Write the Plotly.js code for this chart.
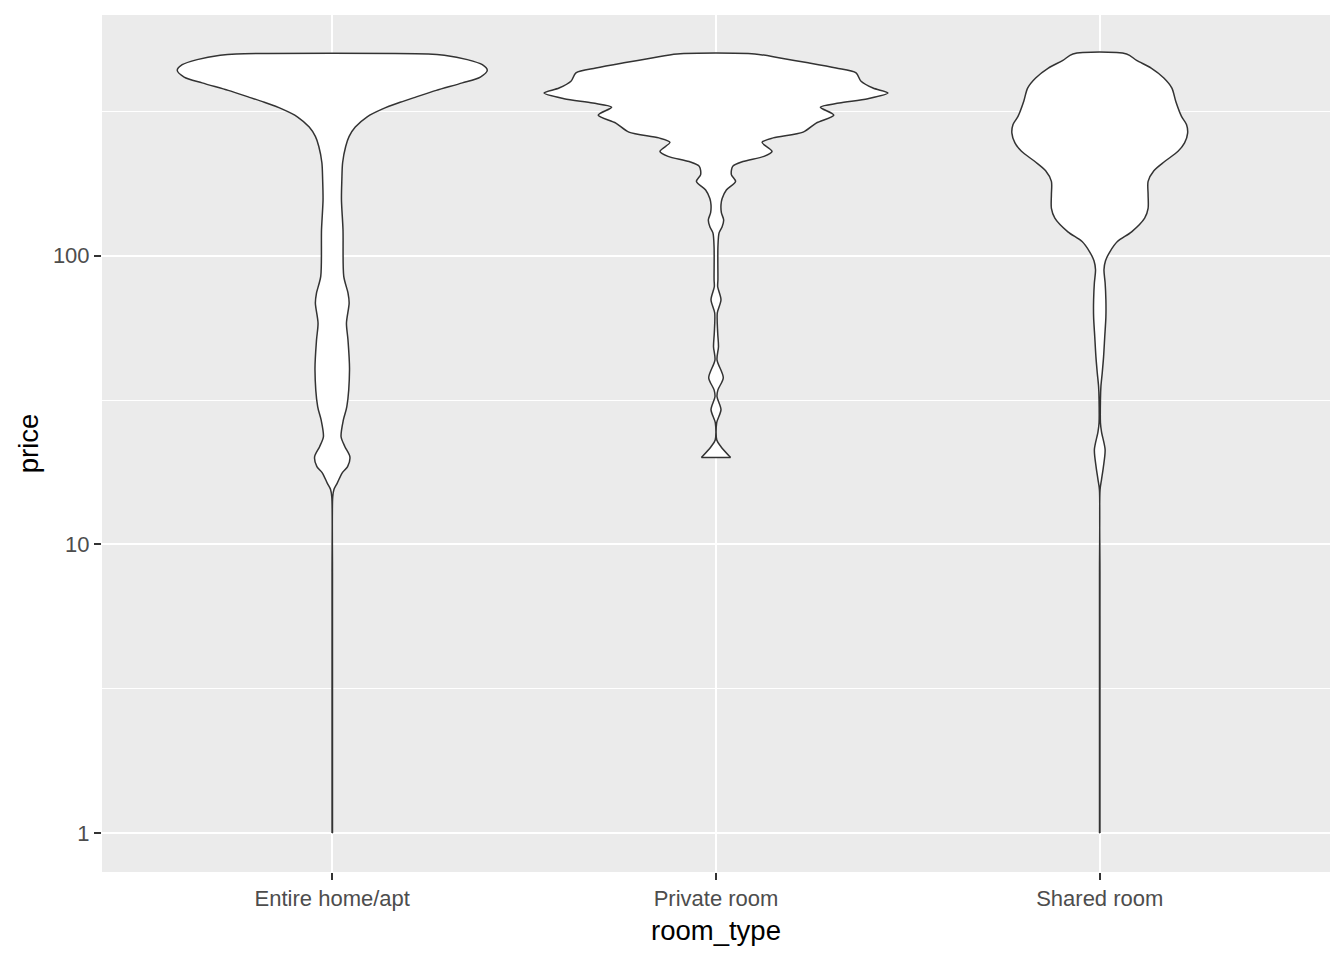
<!DOCTYPE html>
<html>
<head>
<meta charset="utf-8">
<script src="https://cdn.plot.ly/plotly-3.0.1.min.js"></script>
<style>html,body{margin:0;padding:0;background:#fff;}</style>
</head>
<body>
<div id="chart" style="width:1344px;height:960px;"></div>
<script>
// Categories on the x axis
const categories = ['Entire home/apt', 'Private room', 'Shared room'];

// Violin outlines: price (log axis) and half-width of the violin (category units)
const entirePrice = [1, 2, 4, 8, 14.6, 15.5, 16.3, 17.7, 18.6, 20.1, 21.8, 23.6, 27, 30, 40.3, 51.1, 58.4, 68.6, 74.3, 84.8, 123, 156, 183, 210, 239, 259, 279, 303, 322, 340, 355, 374, 397, 416, 439, 459, 478, 495, 500];
const entireHalf = [0.0006, 0.0006, 0.0006, 0.0006, 0.0012, 0.0044, 0.013, 0.026, 0.040, 0.046, 0.033, 0.023, 0.029, 0.038, 0.045, 0.041, 0.037, 0.044, 0.041, 0.030, 0.028, 0.024, 0.025, 0.027, 0.035, 0.044, 0.060, 0.091, 0.130, 0.177, 0.219, 0.271, 0.339, 0.386, 0.404, 0.391, 0.352, 0.292, 0.250];

const privatePrice = [20, 21.8, 23, 26.4, 29.3, 32.5, 34.3, 37.8, 43.6, 48.4, 54.1, 63.4, 70.4, 78.1, 82.6, 107, 120, 126, 133, 141, 150, 158, 169, 181, 191, 204, 212, 221, 230, 247, 256, 268, 288, 307, 327, 338, 350, 366, 381, 402, 430, 447, 466, 484, 500];
const privateHalf = [0.038, 0.013, 0.002, 0.0018, 0.013, 0.0026, 0.005, 0.019, 0.0026, 0.0065, 0.0044, 0.0034, 0.013, 0.0044, 0.005, 0.005, 0.008, 0.016, 0.020, 0.014, 0.013, 0.016, 0.027, 0.051, 0.040, 0.0435, 0.070, 0.125, 0.146, 0.120, 0.149, 0.227, 0.261, 0.307, 0.272, 0.321, 0.396, 0.448, 0.409, 0.378, 0.365, 0.313, 0.240, 0.167, 0.101];

const sharedPrice = [1, 2, 4, 8, 15.45, 16.7, 18.6, 21.3, 24.5, 26.4, 31.7, 35.2, 39.3, 44.7, 52.4, 61.4, 70.4, 80.6, 89.4, 96, 103, 112, 121, 135, 146, 163, 181, 197, 212, 230, 246, 266, 285, 304, 343, 381, 413, 447, 475, 500];
const sharedHalf = [0.0006, 0.0006, 0.0006, 0.0006, 0.0008, 0.0044, 0.0096, 0.014, 0.0047, 0.0018, 0.0018, 0.003, 0.0065, 0.010, 0.013, 0.016, 0.016, 0.014, 0.011, 0.015, 0.026, 0.046, 0.083, 0.117, 0.126, 0.126, 0.126, 0.141, 0.169, 0.204, 0.221, 0.229, 0.226, 0.213, 0.198, 0.188, 0.167, 0.134, 0.096, 0.070];

// Axis ticks
const yTickVals = [1, 10, 100];
const yTickText = ['1', '10', '100'];
const yMinorVals = [3.1623, 31.623, 316.23];

const series = [
  {price: entirePrice, half: entireHalf},
  {price: privatePrice, half: privateHalf},
  {price: sharedPrice, half: sharedHalf}
];

const FONT = 'Liberation Sans, Arial, Helvetica, sans-serif';
const OUTLINE = '#333333';

const traces = [];
series.forEach(function (s, i) {
  const n = s.price.length;
  const xs = [], ys = [];
  // right side bottom -> top, then left side top -> bottom (fill closes the bottom)
  for (let k = 0; k < n; k++) { xs.push(i + s.half[k]); ys.push(s.price[k]); }
  for (let k = n - 1; k >= 0; k--) { xs.push(i - s.half[k]); ys.push(s.price[k]); }
  traces.push({
    type: 'scatter', mode: 'lines', x: xs, y: ys,
    fill: 'toself', fillcolor: '#FFFFFF',
    line: {color: OUTLINE, width: 1.5, shape: 'spline', smoothing: 0.8, simplify: false},
    hoverinfo: 'skip', showlegend: false, name: categories[i]
  });
  // straight bottom edge of the violin
  traces.push({
    type: 'scatter', mode: 'lines',
    x: [i - s.half[0], i + s.half[0]], y: [s.price[0], s.price[0]],
    line: {color: OUTLINE, width: 1.5}, hoverinfo: 'skip', showlegend: false
  });
});

const layout = {
  width: 1344, height: 960,
  margin: {l: 102, r: 14, t: 15, b: 88},
  paper_bgcolor: '#FFFFFF', plot_bgcolor: '#EBEBEB',
  showlegend: false,
  font: {family: FONT},
  xaxis: {
    range: [-0.6, 2.6], tickmode: 'array', tickvals: [0, 1, 2], ticktext: categories,
    showgrid: true, gridcolor: '#FFFFFF', gridwidth: 2, zeroline: false, showline: false,
    ticks: 'outside', ticklen: 7, tickwidth: 2, tickcolor: '#333333',
    tickfont: {family: FONT, size: 22, color: '#4D4D4D'},
    title: {text: 'room_type', font: {family: FONT, size: 27.5, color: '#000000'}, standoff: 10},
    fixedrange: true
  },
  yaxis: {
    type: 'log', range: [-0.135, 2.834], tickmode: 'array', tickvals: yTickVals, ticktext: yTickText,
    showgrid: true, gridcolor: '#FFFFFF', gridwidth: 2, zeroline: false, showline: false,
    ticks: 'outside', ticklen: 7, tickwidth: 2, tickcolor: '#333333',
    tickfont: {family: FONT, size: 22, color: '#4D4D4D'},
    minor: {tickmode: 'array', tickvals: yMinorVals, showgrid: true, gridcolor: '#FFFFFF', gridwidth: 1, ticks: ''},
    title: {text: 'price', font: {family: FONT, size: 27.5, color: '#000000'}, standoff: 6},
    fixedrange: true
  }
};

Plotly.newPlot('chart', traces, layout, {displayModeBar: false, staticPlot: true});
</script>
</body>
</html>
